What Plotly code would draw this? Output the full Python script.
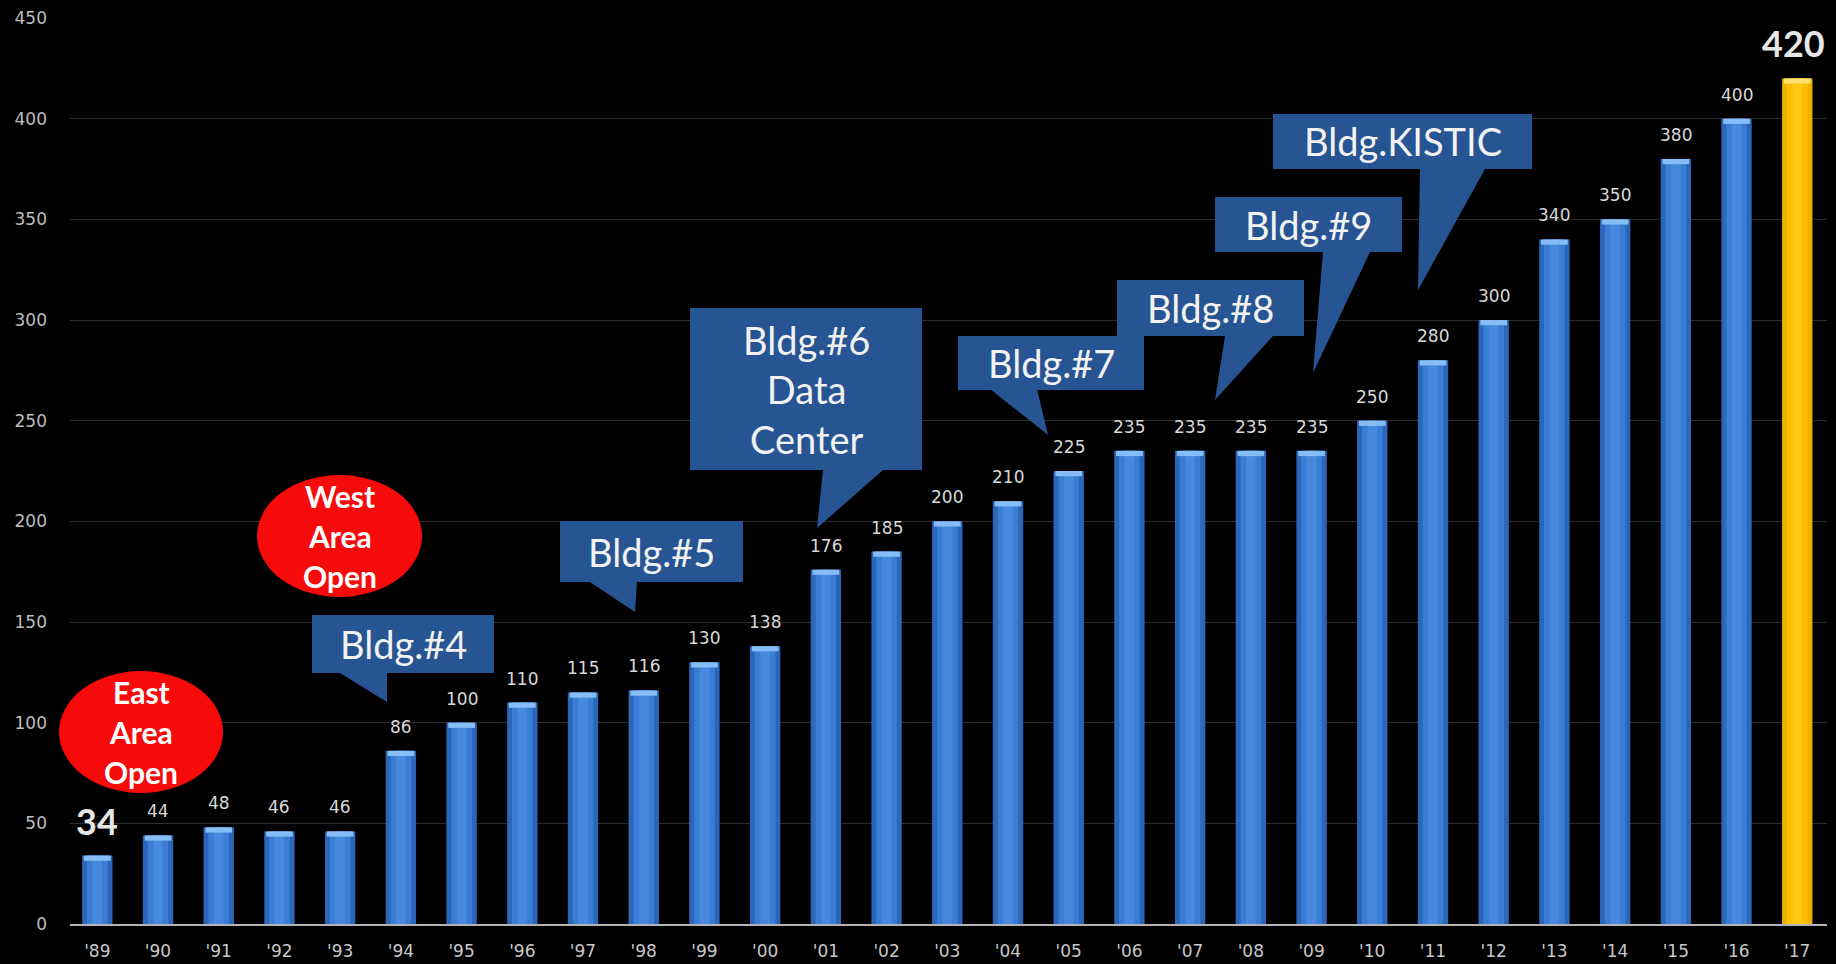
import plotly.graph_objects as go

# ---------------- data ----------------
years = ["'89", "'90", "'91", "'92", "'93", "'94", "'95", "'96", "'97", "'98",
         "'99", "'00", "'01", "'02", "'03", "'04", "'05", "'06", "'07", "'08",
         "'09", "'10", "'11", "'12", "'13", "'14", "'15", "'16", "'17"]
values = [34, 44, 48, 46, 46, 86, 100, 110, 115, 116,
          130, 138, 176, 185, 200, 210, 225, 235, 235, 235,
          235, 250, 280, 300, 340, 350, 380, 400, 420]
highlight_years = ["'89", "'17"]
gold_years = ["'17"]
y_ticks = [0, 50, 100, 150, 200, 250, 300, 350, 400, 450]

box_texts = ["Bldg.#4", "Bldg.#5", "Bldg.#6<br>Data<br>Center", "Bldg.#7",
             "Bldg.#8", "Bldg.#9", "Bldg.KISTIC"]
ellipse_texts = [["East", "Area", "Open"], ["West", "Area", "Open"]]

# ---------------- layout geometry (pixels) ----------------
W, H = 1836, 964
L, R, T, B = 70, 1827, 18, 924


def px(x):
    return (x - L) / (R - L)


def py(y):
    return (B - y) / (B - T)


box_rects = [(312, 615, 494, 673), (560, 521, 743, 582), (690, 308, 922, 470),
             (958, 336, 1144, 390), (1117, 280, 1304, 336), (1215, 197, 1402, 252),
             (1273, 114, 1532, 169)]
box_pointers = [[(340, 673), (387, 673), (387, 702)],
                [(590, 582), (637, 582), (635, 612)],
                [(823, 470), (883, 470), (817, 528)],
                [(990, 389), (1037, 389), (1048, 435)],
                [(1225, 336), (1273, 336), (1215, 400)],
                [(1323, 252), (1370, 252), (1313, 373)],
                [(1420, 169), (1485, 169), (1418, 290)]]
ellipse_rects = [(59, 671, 223, 793), (257, 475, 422, 597)]

BOX_COLOR = "#275594"
RED = "#f70a0a"

# ---------------- bars ----------------
def colors(blue, gold):
    return [gold if y in gold_years else blue for y in years]


fig = go.Figure()
fig.add_trace(go.Bar(x=years, y=values, width=0.5,
                     marker=dict(color=colors("#2c66b8", "#eeb000"), line=dict(width=0)),
                     hoverinfo="skip"))
fig.add_trace(go.Bar(x=years, y=values, width=0.34,
                     marker=dict(color=colors("#3a7dd4", "#fcbf00"), line=dict(width=0)),
                     hoverinfo="skip"))
fig.add_trace(go.Bar(x=years, y=values, width=0.16,
                     marker=dict(color=colors("#4689df", "#ffc814"), line=dict(width=0)),
                     hoverinfo="skip"))
cap_h = 2.6
fig.add_trace(go.Bar(x=years, y=[cap_h] * len(values), base=[v - cap_h for v in values],
                     width=0.44,
                     marker=dict(color=colors("#86bdf5", "#ffe070"), line=dict(width=0)),
                     hoverinfo="skip"))

# ---------------- value labels ----------------
annotations = []
for yr, v in zip(years, values):
    big = yr in highlight_years
    annotations.append(dict(
        x=yr, y=v, xref="x", yref="y", text=str(v), showarrow=False,
        yanchor="middle", yshift=35 if big else 24, xshift=-4 if yr == "'17" else 0,
        font=dict(family="Lato" if big else "DejaVu Sans",
                  size=36 if big else 17,
                  color="#e6e6e6" if big else "#d9d9d9",
                  weight="bold" if big else "normal")))

# ---------------- callouts ----------------
shapes = []
for (x0, y0, x1, y1), pts, txt in zip(box_rects, box_pointers, box_texts):
    shapes.append(dict(type="rect", xref="paper", yref="paper",
                       x0=px(x0), x1=px(x1), y0=py(y1), y1=py(y0),
                       fillcolor=BOX_COLOR, line=dict(width=0), layer="above"))
    path = "M {},{} L {},{} L {},{} Z".format(px(pts[0][0]), py(pts[0][1]),
                                             px(pts[1][0]), py(pts[1][1]),
                                             px(pts[2][0]), py(pts[2][1]))
    shapes.append(dict(type="path", xref="paper", yref="paper", path=path,
                       fillcolor=BOX_COLOR, line=dict(width=0), layer="above"))
    annotations.append(dict(
        x=px((x0 + x1) / 2), y=py((y0 + y1) / 2), xref="paper", yref="paper",
        text=txt, showarrow=False, xanchor="center", yanchor="middle",
        font=dict(family="Lato", size=38, color="#f2f2f2")))

line_gap = 40
for (x0, y0, x1, y1), lines in zip(ellipse_rects, ellipse_texts):
    shapes.append(dict(type="circle", xref="paper", yref="paper",
                       x0=px(x0), x1=px(x1), y0=py(y1), y1=py(y0),
                       fillcolor=RED, line=dict(width=0), layer="above"))
    cy = (y0 + y1) / 2
    for k, ln in enumerate(lines):
        annotations.append(dict(
            x=px((x0 + x1) / 2), y=py(cy + (k - 1) * line_gap),
            xref="paper", yref="paper", text=ln, showarrow=False,
            xanchor="center", yanchor="middle",
            font=dict(family="Lato", size=30, color="#ffffff", weight="bold")))

fig.update_layout(
    width=W, height=H,
    margin=dict(l=L, r=W - R, t=T, b=H - B, pad=0, autoexpand=False),
    paper_bgcolor="#000000", plot_bgcolor="#000000",
    barmode="overlay", bargap=0.5, showlegend=False,
    shapes=shapes, annotations=annotations,
    xaxis=dict(type="category", range=[-0.45, 28.49], showgrid=False,
               showline=True, linecolor="#b4b4b4", linewidth=2, ticks="",
               tickfont=dict(family="DejaVu Sans", size=17, color="#c8c8c8"),
               ticklabelstandoff=11, automargin=False, fixedrange=True),
    yaxis=dict(range=[0, 450], tickvals=y_ticks, showgrid=True, gridcolor="#2c2c2c",
               gridwidth=1, zeroline=False, showline=False, ticks="",
               tickfont=dict(family="DejaVu Sans", size=17, color="#bdbdbd"),
               ticklabelstandoff=22, automargin=False, fixedrange=True),
)

fig.write_html("out.html", config={"displayModeBar": False},
               post_script="document.body.style.margin='0';document.body.style.overflow='hidden';")
